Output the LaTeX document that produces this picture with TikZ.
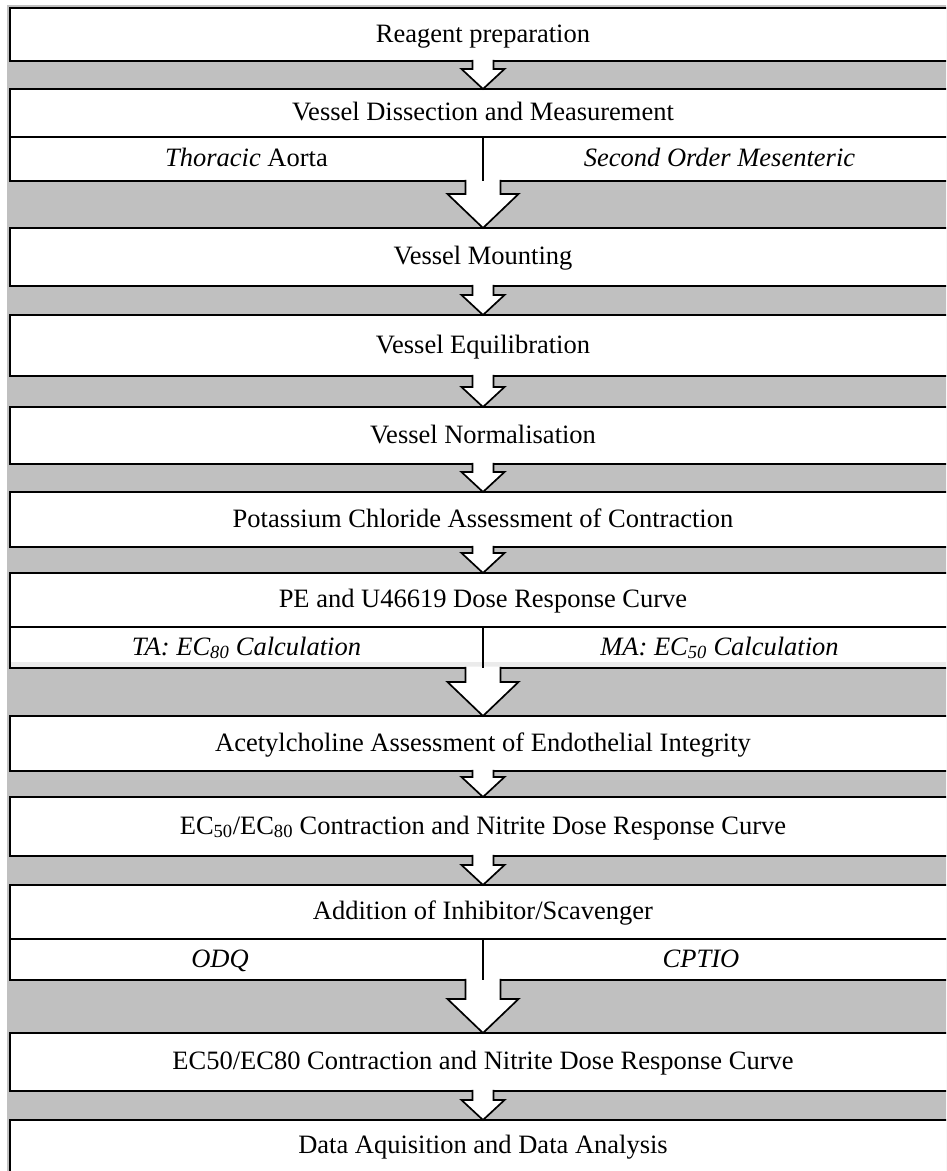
\documentclass[tikz,border=0pt]{standalone}
\usepackage{fontspec}
\setmainfont{Liberation Serif}
\usetikzlibrary{calc}
\definecolor{bggrey}{HTML}{C0C0C0}
\definecolor{bandgrey}{HTML}{EBEBEB}
% #1 source node, #2 target node, #3 shaft half width, #4 head half width, #5 head length
\newcommand{\blkarrow}[5]{%
  \fill[white] let \p1=(#1.south), \p2=(#2.north) in
    (\x1-#3pt,\y1+1.4pt) -- (\x1-#3pt,\y2+#5pt) -- (\x1-#4pt,\y2+#5pt) -- (\x1,\y2)
    -- (\x1+#4pt,\y2+#5pt) -- (\x1+#3pt,\y2+#5pt) -- (\x1+#3pt,\y1+1.4pt) -- cycle;
  \draw[arrowline] let \p1=(#1.south), \p2=(#2.north) in
    (\x1-#3pt,\y1+1.2pt) -- (\x1-#3pt,\y2+#5pt) -- (\x1-#4pt,\y2+#5pt) -- (\x1,\y2)
    -- (\x1+#4pt,\y2+#5pt) -- (\x1+#3pt,\y2+#5pt) -- (\x1+#3pt,\y1+1.2pt);
}
\begin{document}
\begin{tikzpicture}[x=1pt,y=-1pt,
  txt/.style={font=\fontsize{26.5}{31}\selectfont, text height=20pt, text depth=5pt},
  box/.style={txt, draw, line width=2.6pt, fill=white, inner sep=0pt, outer sep=0pt,
    minimum width=946pt},
  lbl/.style={txt, inner sep=0pt},
  arrowline/.style={line width=1.7pt, line join=miter},
  divider/.style={line width=2.4pt}]
\useasboundingbox (0,0) rectangle (946,1171);
\clip (0,0) rectangle (946,1171);
\fill[bggrey] (7,5) rectangle (950,1180);

\node[box, minimum height=53pt] (b1) at (483,34.5) {Reagent preparation};
\node[box, minimum height=92pt] (b2) at (483,135) {};
\node[lbl] (t2) at (483,113) {Vessel Dissection and Measurement};
\node[lbl] (t2l) at (246.5,159) {\textit{Thoracic} Aorta};
\node[lbl] (t2r) at (719.5,159) {\textit{Second Order Mesenteric}};
\node[box, minimum height=58pt] (b3) at (483,257) {Vessel Mounting};
\node[box, minimum height=61pt] (b4) at (483,345.5) {Vessel Equilibration};
\node[box, minimum height=57pt] (b5) at (483,435.5) {Vessel Normalisation};
\node[box, minimum height=55pt] (b6) at (483,519.5) {Potassium Chloride Assessment of Contraction};
\node[box, minimum height=95pt] (b7) at (483,620.5) {};
\node[lbl] (t7) at (483,600) {PE and U46619 Dose Response Curve};
\node[lbl] (t7l) at (246.5,647.5) {\textit{TA: EC\textsubscript{80} Calculation}};
\node[lbl] (t7r) at (719.5,647.5) {\textit{MA: EC\textsubscript{50} Calculation}};
\node[box, minimum height=55pt] (b8) at (483,743.5) {Acetylcholine Assessment of Endothelial Integrity};
\node[box, minimum height=59pt] (b9) at (483,826.5) {EC\textsubscript{50}/EC\textsubscript{80} Contraction and Nitrite Dose Response Curve};
\node[box, minimum height=95pt] (b10) at (483,932.5) {};
\node[lbl] (t10) at (483,912) {Addition of Inhibitor/Scavenger};
\node[lbl] (t10l) at (220,959.5) {\textit{ODQ}};
\node[lbl] (t10r) at (701,959.5) {\textit{CPTIO}};
\node[box, minimum height=58pt] (b11) at (483,1062) {EC50/EC80 Contraction and Nitrite Dose Response Curve};
\node[box, minimum height=54pt, text height=18.5pt, text depth=6.5pt] (b12) at (483,1147) {Data Aquisition and Data Analysis};

% horizontal dividers of split boxes
\draw[divider] (10,137) -- (956,137);
\draw[divider] (10,627) -- (956,627);
\draw[divider] (10,939) -- (956,939);
% faint band at bottom of PE cells
\fill[bandgrey] (11.3,661.5) rectangle (950,666.7);

% block arrows
\blkarrow{b1}{b2}{10.5}{21.5}{20}
\blkarrow{b2}{b3}{17.5}{35.5}{34}
\blkarrow{b3}{b4}{10.5}{21.5}{20}
\blkarrow{b4}{b5}{10.5}{21.5}{20}
\blkarrow{b5}{b6}{10.5}{21.5}{20}
\blkarrow{b6}{b7}{10.5}{21.5}{20}
\blkarrow{b7}{b8}{17.5}{35.5}{34}
\blkarrow{b8}{b9}{10.5}{21.5}{20}
\blkarrow{b9}{b10}{10.5}{21.5}{20}
\blkarrow{b10}{b11}{17.5}{35.5}{34}
\blkarrow{b11}{b12}{10.5}{21.5}{20}

% vertical dividers
\draw[divider] (483,137) -- (b2.south);
\draw[divider] (483,627) -- (b7.south);
\draw[divider] (483,939) -- (b10.south);
\end{tikzpicture}
\end{document}
